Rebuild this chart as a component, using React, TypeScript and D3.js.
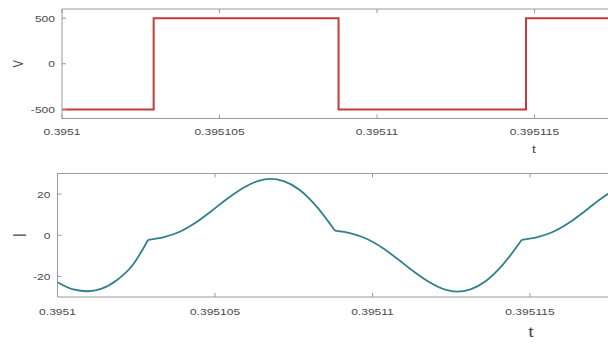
import React from "react";
import * as d3 from "d3";

// time offsets in microseconds from t = 0.3951 s
const xTickValues = [0, 5, 10, 15];
const xTickLabels = ["0.3951", "0.395105", "0.39511", "0.395115"];

// Voltage: step switching instants (µs) and levels (V)
const vTimes = [0, 2.91, 8.78, 14.73, 20];
const vLevels = [-500, 500, -500, 500, 500];
const vTickValues = [500, 0, -500];
const vTickLabels = ["500", "0", "-500"];

// Current segments between commutation kinks (µs, A)
const iSeg1T = [0, 0.5, 0.95, 1.38, 1.88, 2.38, 2.88];
const iSeg1V = [-22.8, -26.3, -27.2, -26.1, -21.9, -14.6, -2.2];
const iSeg2T = [2.88, 3.38, 3.88, 4.38, 4.88, 5.38, 5.88, 6.38, 6.75, 7.18, 7.68, 8.18, 8.81];
const iSeg2V = [-2.2, -0.9, 1.7, 6.05, 11.7, 17.65, 22.85, 26.45, 27.4, 26.3, 22.15, 14.8, 2.2];
const iSeg3T = [8.81, 9.31, 9.81, 10.31, 10.81, 11.31, 11.81, 12.31, 12.68, 13.11, 13.61, 14.11, 14.74];
const iSeg3V = [2.2, 0.9, -1.7, -6.05, -11.7, -17.65, -22.85, -26.45, -27.4, -26.3, -22.15, -14.8, -2.2];
const iSeg4T = [14.74, 15.24, 15.74, 16.24, 16.74, 17.24, 17.6];
const iSeg4V = [-2.2, -0.9, 1.7, 6.05, 11.7, 17.65, 21.4];
const iTickValues = [20, 0, -20];
const iTickLabels = ["20", "0", "-20"];

const W = 608;
const H = 345;
const AX = "#9a9a9a";
const TXT = "#4a4a4a";
const SX = 1.27; // horizontal text stretch

function Txt({ x, y, text, anchor = "middle", size = 10, rotate = 0 }: any) {
  return (
    <text
      transform={`translate(${x},${y}) rotate(${rotate}) scale(${rotate ? 1 : SX},${rotate ? SX : 1})`}
      textAnchor={anchor}
      dominantBaseline="central"
      fontFamily="Liberation Sans, Arial, sans-serif"
      fontSize={size}
      fill={TXT}
    >
      {text}
    </text>
  );
}

function Panel({ left, top, bottom, yDomain, yTicks, yLabels, ylabel, ylabelSize, ylabelX, xlabelY, xlabelSize, xlabelX, tickLabelY, children }: any) {
  const x = d3.scaleLinear().domain([0, 20]).range([left, left + 20 * 31.5]);
  const y = d3.scaleLinear().domain(yDomain).range([bottom, top]);
  return (
    <g>
      {children(x, y)}
      <line x1={left} x2={W} y1={top} y2={top} stroke={AX} strokeWidth={1} />
      <line x1={left} x2={W} y1={bottom} y2={bottom} stroke={AX} strokeWidth={1} />
      <line x1={left} x2={left} y1={top} y2={bottom} stroke={AX} strokeWidth={1} />
      {xTickValues.map((v, i) => (
        <g key={"x" + i}>
          <line x1={x(v)} x2={x(v)} y1={bottom} y2={bottom - 4} stroke={AX} />
          <line x1={x(v)} x2={x(v)} y1={top} y2={top + 4} stroke={AX} />
          <Txt x={x(v)} y={tickLabelY} text={xTickLabels[i]} size={9.5} />
        </g>
      ))}
      {yTicks.map((v: number, i: number) => (
        <g key={"y" + i}>
          <line x1={left} x2={left + 4} y1={y(v)} y2={y(v)} stroke={AX} />
          <Txt x={left - 7} y={y(v)} text={yLabels[i]} anchor="end" size={9.5} />
        </g>
      ))}
      <Txt x={ylabelX} y={y(0)} text={ylabel} size={ylabelSize} rotate={-90} />
      <Txt x={xlabelX} y={xlabelY} text="t" size={xlabelSize} />
    </g>
  );
}

export default function App() {
  const segs = [
    [iSeg1T, iSeg1V],
    [iSeg2T, iSeg2V],
    [iSeg3T, iSeg3V],
    [iSeg4T, iSeg4V],
  ];
  return (
    <svg width={W} height={H} style={{ position: "absolute", left: 0, top: 0, background: "#fff" }}>
      <rect width={W} height={H} fill="#fff" />
      <Panel
        left={62}
        top={9}
        bottom={118.5}
        yDomain={[-600, 600]}
        yTicks={vTickValues}
        yLabels={vTickLabels}
        ylabel="V"
        ylabelSize={11}
        ylabelX={19}
        xlabelX={534}
        xlabelY={150}
        xlabelSize={11}
        tickLabelY={132}
      >
        {(x: any, y: any) => {
          const pts = vTimes.map((t, i) => [t, vLevels[i]] as [number, number]);
          const line = d3
            .line<[number, number]>()
            .x((d) => x(d[0]))
            .y((d) => y(d[1]))
            .curve(d3.curveStepAfter);
          return <path d={line(pts) || ""} fill="none" stroke="#c43a3a" strokeWidth={2} />;
        }}
      </Panel>
      <Panel
        left={57.5}
        top={173.5}
        bottom={297}
        yDomain={[-30, 30]}
        yTicks={iTickValues}
        yLabels={iTickLabels}
        ylabel="I"
        ylabelSize={15}
        ylabelX={19}
        xlabelX={531}
        xlabelY={332}
        xlabelSize={15}
        tickLabelY={312}
      >
        {(x: any, y: any) => {
          const line = d3
            .line<[number, number]>()
            .x((d) => x(d[0]))
            .y((d) => y(d[1]))
            .curve(d3.curveMonotoneX);
          return segs.map(([ts, vs], k) => (
            <path
              key={k}
              d={line(ts.map((t, i) => [t, vs[i]] as [number, number])) || ""}
              fill="none"
              stroke="#31808d"
              strokeWidth={1.8}
              strokeLinejoin="round"
            />
          ));
        }}
      </Panel>
    </svg>
  );
}
